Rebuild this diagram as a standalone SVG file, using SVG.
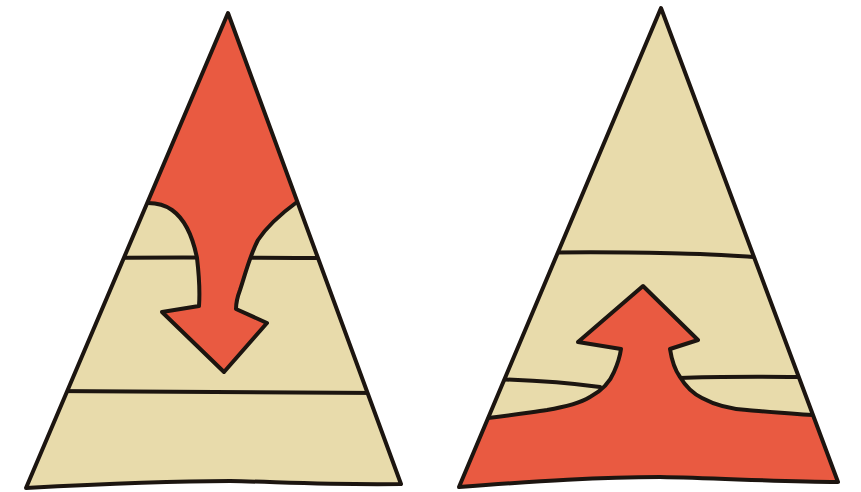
<svg xmlns="http://www.w3.org/2000/svg" width="861" height="492" viewBox="0 0 861 492">
<style>
.bg{fill:#ffffff}
.beige{fill:#e8dbab}
.red{fill:#e95a41}
.ln{fill:none;stroke:#1c1510;stroke-width:4;stroke-linecap:round;stroke-linejoin:round}
</style>
<defs>
<path id="triL" d="M228,13 L401,484 C330,485 280,482 230,481 C160,481 100,484 26,488 Z"/>
<path id="triR" d="M661,8 L838,482 C780,482 720,478 660,477 C600,477 540,481 459,487 Z"/>
<clipPath id="clipL"><use href="#triL"/></clipPath>
<clipPath id="clipR"><use href="#triR"/></clipPath>
</defs>
<rect class="bg" x="0" y="0" width="861" height="492"/>

<g id="pyramid-left">
<use href="#triL" class="beige"/>
<g clip-path="url(#clipL)">
<path class="ln" d="M100,258 C180,257 260,258 340,258"/>
<path class="ln" d="M50,391 C150,391 260,392 380,393"/>
<path class="red" d="M100,0 L350,0 L350,200 L297,202 C282,213 268,225 258,240 C250,255 245,275 240,290 C237,298 236,303 236,309 L267,323 L224,372 L162,312 L199,306 C200,292 199,275 197,258 C193,238 186,220 172,210 C165,205 157,203 148,203 L100,203 Z"/>
<path class="ln" d="M148,203 C157,203 165,205 172,210 C186,220 193,238 197,258 C199,275 200,292 199,306 L162,312 L224,372 L267,323 L236,309 C236,303 237,298 240,290 C245,275 250,255 258,240 C268,225 282,213 297,202"/>
</g>
<use href="#triL" class="ln"/>
</g>

<g id="pyramid-right">
<use href="#triR" class="beige"/>
<g clip-path="url(#clipR)">
<path class="ln" d="M540,253 C600,251 650,253 700,254 C730,255 750,257 770,258"/>
<path class="ln" d="M490,379 C530,380 570,383 600,387"/>
<path class="ln" d="M680,378 C720,376 780,377 820,377"/>
<path class="red" d="M470,420 C500,417 525,413 547,410 C565,407 580,403 590,397 C603,390 610,382 614,372 C618,363 620,356 621,349 L578,342 L643,286 L698,340 L670,349 C672,362 675,370 680,377 C686,387 692,393 702,398 C715,405 730,409 747,410 C770,412 790,414 813,415 L860,420 L860,492 L440,492 Z"/>
<path class="ln" d="M470,420 C500,417 525,413 547,410 C565,407 580,403 590,397 C603,390 610,382 614,372 C618,363 620,356 621,349 L578,342 L643,286 L698,340 L670,349 C672,362 675,370 680,377 C686,387 692,393 702,398 C715,405 730,409 747,410 C770,412 790,414 813,415 L860,420"/>
</g>
<use href="#triR" class="ln"/>
</g>
</svg>
